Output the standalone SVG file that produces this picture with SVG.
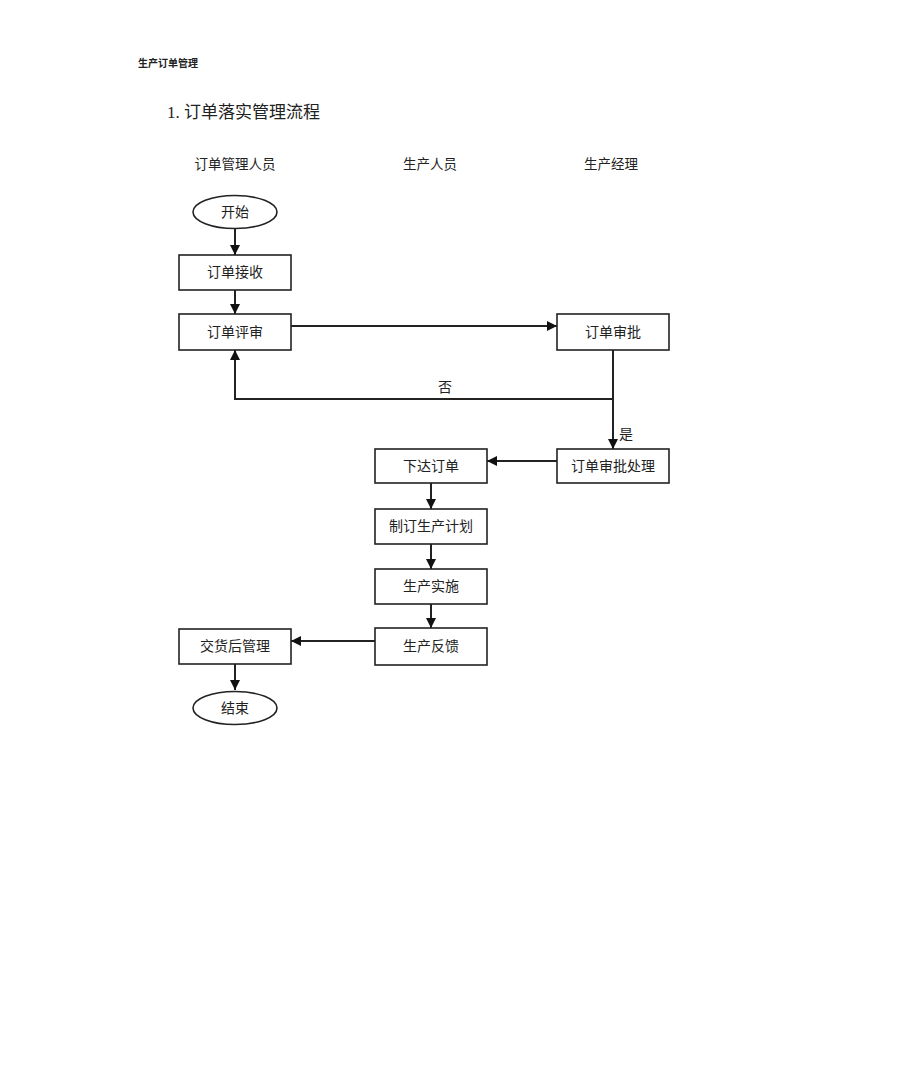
<svg xmlns="http://www.w3.org/2000/svg" width="920" height="1088" viewBox="0 0 920 1088">
<defs>
<style>
.t{font-family:"Liberation Serif","Noto Sans CJK SC",serif;fill:#222;}
.box{fill:#fff;stroke:#222;stroke-width:1.6;}
.lbl{font-family:"Liberation Serif","Noto Sans CJK SC",serif;font-size:14px;fill:#222;text-anchor:middle;dominant-baseline:central;}
.ln{fill:none;stroke:#222;stroke-width:2;}
</style>
<marker id="ah" viewBox="0 0 10 10" refX="10" refY="5" markerWidth="5" markerHeight="5" orient="auto" markerUnits="userSpaceOnUse">
<path d="M0,0 L10,5 L0,10 z" fill="#111"/>
</marker>
<marker id="a" viewBox="0 0 10 10" refX="10" refY="5" markerWidth="10" markerHeight="10" orient="auto" markerUnits="userSpaceOnUse">
<path d="M0,0 L10,5 L0,10 z" fill="#111"/>
</marker>
</defs>
<rect width="920" height="1088" fill="#fff"/>
<text class="t" x="138" y="67" font-size="10" font-weight="bold" style="font-family:'Noto Sans CJK SC',sans-serif">生产订单管理</text>
<text class="t" x="167" y="118" font-size="17">1. 订单落实管理流程</text>
<text class="t" x="235" y="169" font-size="13.5" text-anchor="middle">订单管理人员</text>
<text class="t" x="430" y="169" font-size="13.5" text-anchor="middle">生产人员</text>
<text class="t" x="611" y="169" font-size="13.5" text-anchor="middle">生产经理</text>

<g id="connectors">
<path class="ln" d="M235,228 V255" marker-end="url(#a)"/>
<path class="ln" d="M235,290 V314" marker-end="url(#a)"/>
<path class="ln" d="M291,326 H557" marker-end="url(#a)"/>
<path class="ln" d="M613,350 V449" marker-end="url(#a)"/>
<path class="ln" d="M613,399 H235 V350" marker-end="url(#a)"/>
<path class="ln" d="M557,461 H487" marker-end="url(#a)"/>
<path class="ln" d="M431,483 V509" marker-end="url(#a)"/>
<path class="ln" d="M431,544 V569" marker-end="url(#a)"/>
<path class="ln" d="M431,604 V628" marker-end="url(#a)"/>
<path class="ln" d="M375,641 H291" marker-end="url(#a)"/>
<path class="ln" d="M235,664 V690" marker-end="url(#a)"/>
<text class="t" x="445" y="392" font-size="14" text-anchor="middle">否</text>
<text class="t" x="619" y="439" font-size="14">是</text>
</g>

<g id="start"><ellipse class="box" cx="235" cy="212" rx="42" ry="16.5"/><text class="lbl" x="235" y="212">开始</text></g>
<g id="receive"><rect class="box" x="179" y="255" width="112" height="35"/><text class="lbl" x="235" y="272">订单接收</text></g>
<g id="review"><rect class="box" x="179" y="314" width="112" height="36"/><text class="lbl" x="235" y="332">订单评审</text></g>
<g id="approve"><rect class="box" x="557" y="314" width="112" height="36"/><text class="lbl" x="613" y="332">订单审批</text></g>
<g id="approve-handle"><rect class="box" x="557" y="449" width="112" height="34"/><text class="lbl" x="613" y="466">订单审批处理</text></g>
<g id="issue"><rect class="box" x="375" y="449" width="112" height="34"/><text class="lbl" x="431" y="466">下达订单</text></g>
<g id="plan"><rect class="box" x="375" y="509" width="112" height="35"/><text class="lbl" x="431" y="526">制订生产计划</text></g>
<g id="execute"><rect class="box" x="375" y="569" width="112" height="35"/><text class="lbl" x="431" y="586">生产实施</text></g>
<g id="feedback"><rect class="box" x="375" y="628" width="112" height="37"/><text class="lbl" x="431" y="646">生产反馈</text></g>
<g id="after-delivery"><rect class="box" x="179" y="629" width="112" height="35"/><text class="lbl" x="235" y="646">交货后管理</text></g>
<g id="end"><ellipse class="box" cx="235" cy="708" rx="42" ry="16.5"/><text class="lbl" x="235" y="708">结束</text></g>
</svg>
